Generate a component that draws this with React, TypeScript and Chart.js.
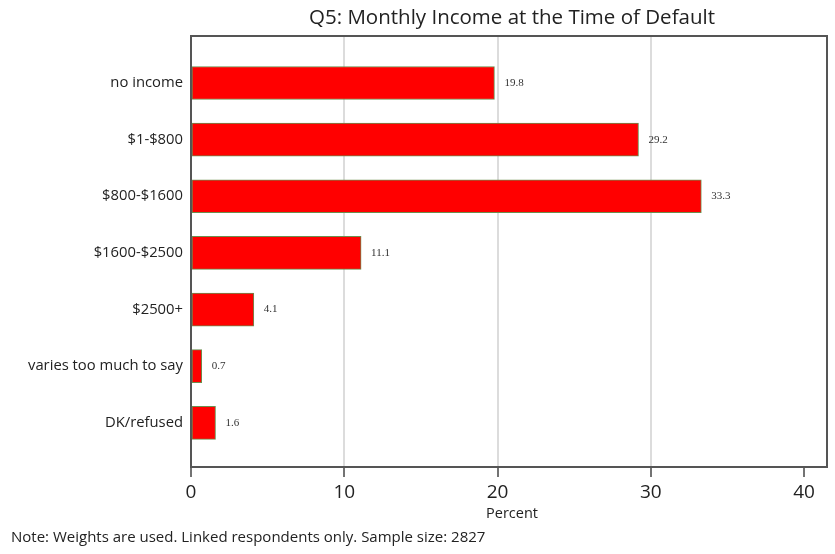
import React, { useEffect, useRef } from "react";
import { Chart, registerables } from "chart.js";

Chart.register(...registerables);

const categories = [
  "no income",
  "$1-$800",
  "$800-$1600",
  "$1600-$2500",
  "$2500+",
  "varies too much to say",
  "DK/refused",
];
const percents = [19.8, 29.2, 33.3, 11.1, 4.1, 0.7, 1.6];
const xTicks = [0, 10, 20, 30, 40];
const titleText = "Q5: Monthly Income at the Time of Default";
const xTitle = "Percent";
const noteText = "Note: Weights are used. Linked respondents only. Sample size: 2827";

const FONT = "'Open Sans', 'Noto Sans', sans-serif";

export default function App() {
  const ref = useRef<HTMLCanvasElement | null>(null);

  useEffect(() => {
    if (!ref.current) return;
    const framePlugin = {
      id: "frameAndText",
      afterDatasetsDraw(chart: any) {
        const ctx = chart.ctx;
        const meta = chart.getDatasetMeta(0);
        ctx.save();
        ctx.font = "11px 'Liberation Serif', 'DejaVu Serif', serif";
        ctx.fillStyle = "#333";
        ctx.textAlign = "left";
        ctx.textBaseline = "middle";
        meta.data.forEach((bar: any, i: number) => {
          ctx.fillText(percents[i].toFixed(1), bar.x + 10, bar.y);
        });
        ctx.restore();
      },
      afterDraw(chart: any) {
        const ctx = chart.ctx;
        const a = chart.chartArea;
        ctx.save();
        ctx.strokeStyle = "#555";
        ctx.lineWidth = 2;
        ctx.strokeRect(a.left, a.top, a.right - a.left, a.bottom - a.top);
        ctx.fillStyle = "#222";
        ctx.textAlign = "center";
        ctx.textBaseline = "middle";
        ctx.font = `20.5px ${FONT}`;
        ctx.fillText(titleText, (a.left + a.right) / 2 + 3, 18);
        ctx.font = `14.5px ${FONT}`;
        ctx.fillText(xTitle, (a.left + a.right) / 2 + 3, 514);
        ctx.textAlign = "left";
        ctx.font = `15px ${FONT}`;
        ctx.fillText(noteText, 11, 538);
        ctx.restore();
      },
    };

    const chart = new Chart(ref.current, {
      type: "bar",
      data: {
        labels: categories,
        datasets: [
          {
            data: percents.map((v, i) => ({ x: v, y: i })) as any,
            backgroundColor: "#ff0000",
            borderColor: "#6b8e4e",
            borderWidth: 1,
            borderSkipped: false,
            barThickness: 33,
          },
        ],
      },
      options: {
        indexAxis: "y",
        animation: false,
        responsive: false,
        maintainAspectRatio: false,
        layout: { padding: { top: 36, right: 8, left: 0, bottom: 0 } },
        plugins: {
          legend: { display: false },
          title: { display: false },
          tooltip: { enabled: false },
        },
        scales: {
          x: {
            type: "linear",
            position: "bottom",
            bounds: "data",
            offset: false,
            min: 0,
            max: 41.5,
            afterBuildTicks: (scale: any) => {
              scale.ticks = xTicks.map((v) => ({ value: v }));
            },
            afterFit: (scale: any) => {
              scale.height = 554 - 467;
            },
            border: { display: false },
            grid: {
              offset: false,
              color: (c: any) =>
                c.tick && (c.tick.value === 0 || c.tick.value === 40)
                  ? "rgba(0,0,0,0)"
                  : "#dcdcdc",
              lineWidth: 2,
              tickColor: "#444",
              tickLength: 10,
              tickWidth: 1.5,
            },
            ticks: {
              font: { family: FONT, size: 19 },
              color: "#222",
              padding: 4,
              maxRotation: 0,
              autoSkip: false,
            },
          },
          y: {
            type: "linear",
            bounds: "data",
            offset: false,
            reverse: true,
            min: -0.83,
            max: 6.78,
            afterBuildTicks: (scale: any) => {
              scale.ticks = categories.map((_, i) => ({ value: i }));
            },
            afterFit: (scale: any) => {
              scale.width = 191;
            },
            border: { display: false },
            grid: { display: false, drawTicks: false, offset: false },
            ticks: {
              font: { family: FONT, size: 14.8 },
              color: "#222",
              padding: 8,
              autoSkip: false,
              callback: (v: any) => categories[v as number] ?? "",
            },
          },
        },
      },
      plugins: [framePlugin],
    });
    return () => chart.destroy();
  }, []);

  return (
    <div style={{ position: "fixed", left: 0, top: 0, width: 835, height: 554, background: "#fff" }}>
      <canvas ref={ref} width={835} height={554} style={{ width: 835, height: 554 }} />
    </div>
  );
}
